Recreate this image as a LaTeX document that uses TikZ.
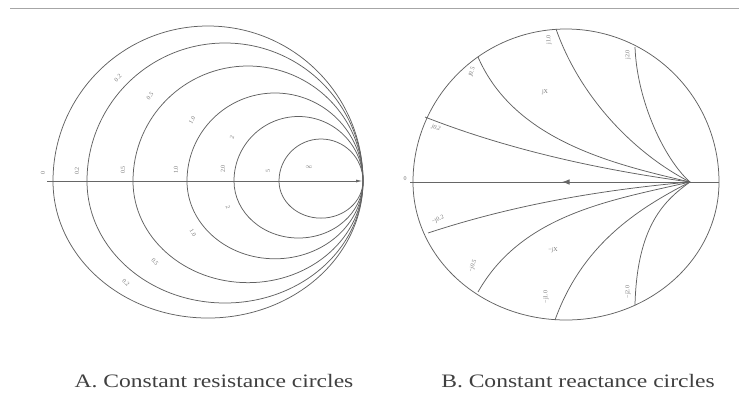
\documentclass[tikz,border=0pt]{standalone}
\usepackage{fontspec}
\setmainfont{Liberation Serif}
\usetikzlibrary{arrows.meta}

\begin{document}
\begin{tikzpicture}[x=1pt, y=-1pt, >=Latex,
  chart/.style={draw=black!62, line width=0.75pt},
  axisline/.style={draw=black!60, line width=1pt},
  tag/.style={font=\fontsize{6}{6}\selectfont, text=black!55, inner sep=0.5pt},
  caption/.style={font=\fontsize{19}{22}\selectfont, text=black!75, xscale=1.24}]
\useasboundingbox (0,0) rectangle (739,394);
\draw[black!35, line width=0.8pt] (10,8) -- (739,8);
% A. constant resistance circles
\foreach \l in {53,87,133,187,234,279}{
  \pgfmathsetmacro\rr{(363-\l)/2}
  \draw[chart] (363,181) arc[start angle=0, end angle=180, x radius=\rr, y radius=0.884*\rr]
                         arc[start angle=180, end angle=360, x radius=\rr, y radius=\rr];
}
\draw[axisline, -{Latex[length=7pt, width=3pt]}] (47,181) -- (363,181);
\node[tag, rotate=90] (ra0) at (43,173) {0};
\node[tag, rotate=90] (ra1) at (77,171) {0.2};
\node[tag, rotate=90] (ra2) at (123,170) {0.5};
\node[tag, rotate=90] (ra3) at (176,170) {1.0};
\node[tag, rotate=90] (ra4) at (223,169) {2.0};
\node[tag, rotate=90] (ra5) at (268,171) {5};
\node[tag] (rinf) at (309,167) {$\infty$};
\node[tag, rotate=45] (ru1) at (118,78) {0.2};
\node[tag, rotate=50] (ru2) at (150,96) {0.5};
\node[tag, rotate=60] (ru3) at (192,120) {1.0};
\node[tag, rotate=70] (ru4) at (232,137) {2};
\node[tag, rotate=-45] (rl1) at (126,283) {0.2};
\node[tag, rotate=-50] (rl2) at (155,262) {0.5};
\node[tag, rotate=-60] (rl3) at (193,233) {1.0};
\node[tag, rotate=-70] (rl4) at (228,207) {2};
% B. constant reactance circles
\draw[chart] (719,182) arc[start angle=0, end angle=180, x radius=153, y radius=138]
                       arc[start angle=180, end angle=360, x radius=153, y radius=153];
\draw[axisline] (410,182) -- (719,182);
\draw[axisline, ->] (574,182) -- (562,182);
\draw[chart] (425,117) .. controls (509,150) and (601,170) .. (690,182);
\draw[chart] (478,57) .. controls (514,140) and (612,164) .. (690,182);
\draw[chart] (556,29) .. controls (581,100) and (637,155) .. (690,182);
\draw[chart] (635,47) .. controls (637,102) and (665,160) .. (690,182);
\draw[chart] (428,233) .. controls (513,205) and (600,190) .. (690,182);
\draw[chart] (478,292) .. controls (522,214) and (612,200) .. (690,182);
\draw[chart] (555,320) .. controls (582,245) and (637,209) .. (690,182);
\draw[chart] (635,305) .. controls (637,225) and (665,200) .. (690,182);
\node[tag] (x0) at (405,179) {0};
\node[tag, rotate=-25] (xu1) at (436,128) {j0.2};
\node[tag, rotate=70] (xu2) at (472,72) {j0.5};
\node[tag, rotate=90] (xu3) at (549,40) {j1.0};
\node[tag, rotate=90] (xu4) at (628,55) {j2.0};
\node[tag] (xup) at (545,92) {jX};
\node[tag, rotate=25] (xl1) at (438,220) {−j0.2};
\node[tag, rotate=70] (xl2) at (473,266) {−j0.5};
\node[tag, rotate=90] (xl3) at (546,297) {−j1.0};
\node[tag, rotate=90] (xl4) at (628,292) {−j2.0};
\node[tag] (xlo) at (553,250) {−jX};
% captions
\node[caption] (capa) at (214,381) {A. Constant resistance circles};
\node[caption] (capb) at (578,381) {B. Constant reactance circles};
\end{tikzpicture}
\end{document}
